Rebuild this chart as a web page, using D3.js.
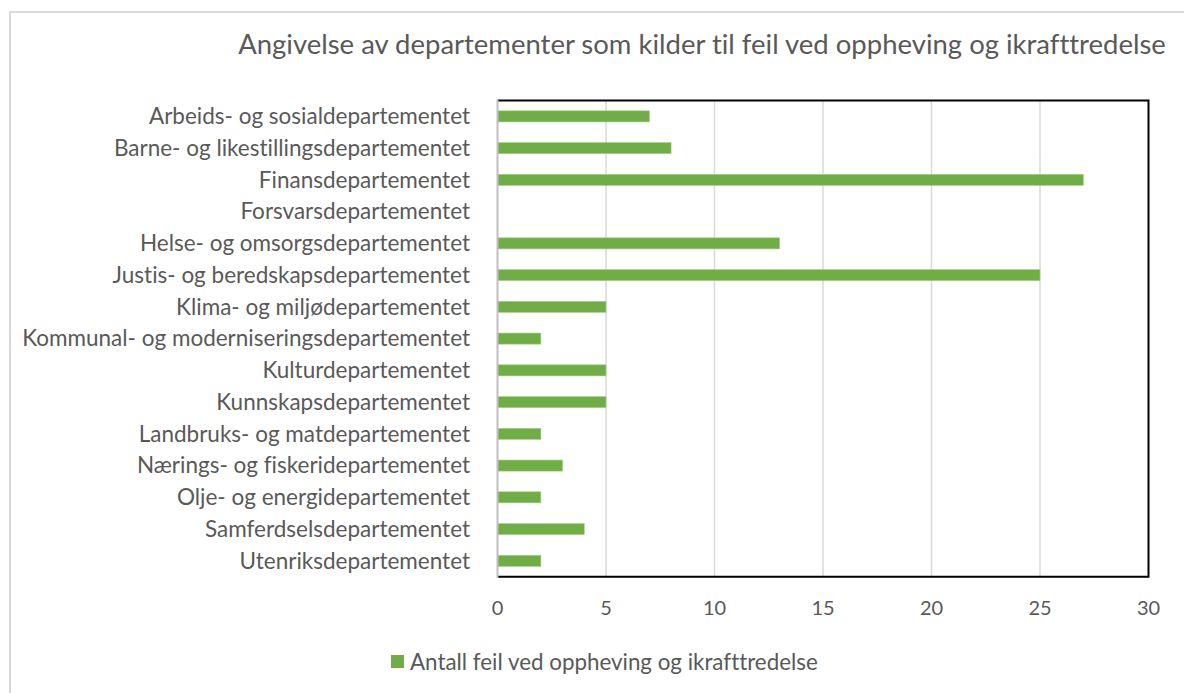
<!DOCTYPE html>
<html>
<head>
<meta charset="utf-8">
<script src="https://cdn.jsdelivr.net/npm/d3@7"></script>
<style>
  html, body { margin: 0; padding: 0; background: #fff; }
  svg { display: block; }
  text { font-family: "Lato", "Open Sans", sans-serif; font-variant-ligatures: none; font-feature-settings: "liga" 0, "clig" 0; }
</style>
</head>
<body>
<svg id="chart" width="1184" height="693"></svg>
<script>
const title = "Angivelse av departementer som kilder til feil ved oppheving og ikrafttredelse";
const seriesName = "Antall feil ved oppheving og ikrafttredelse";
const categories = [
  "Arbeids- og sosialdepartementet",
  "Barne- og likestillingsdepartementet",
  "Finansdepartementet",
  "Forsvarsdepartementet",
  "Helse- og omsorgsdepartementet",
  "Justis- og beredskapsdepartementet",
  "Klima- og miljødepartementet",
  "Kommunal- og moderniseringsdepartementet",
  "Kulturdepartementet",
  "Kunnskapsdepartementet",
  "Landbruks- og matdepartementet",
  "Nærings- og fiskeridepartementet",
  "Olje- og energidepartementet",
  "Samferdselsdepartementet",
  "Utenriksdepartementet"
];
const values = [7, 8, 27, 0, 13, 25, 5, 2, 5, 5, 2, 3, 2, 4, 2];
const xTicks = [0, 5, 10, 15, 20, 25, 30];

const svg = d3.select("#chart");
const W = 1184, H = 693;

// outer chart border
svg.append("rect")
  .attr("x", 10).attr("y", 12).attr("width", W + 20).attr("height", H + 20)
  .attr("fill", "#fff").attr("stroke", "#d9d9d9").attr("stroke-width", 2);

const plot = { left: 497.5, right: 1148.5, top: 100.5, bottom: 576.7 };

const x = d3.scaleLinear().domain([0, 30]).range([plot.left, plot.right]);
const y = d3.scaleBand().domain(categories).range([plot.top, plot.bottom]).paddingInner(0.65).paddingOuter(0.325);

// gridlines
svg.append("g").selectAll("line").data(xTicks.slice(1, -1)).join("line")
  .attr("x1", d => x(d)).attr("x2", d => x(d))
  .attr("y1", plot.top).attr("y2", plot.bottom)
  .attr("stroke", "#d9d9d9").attr("stroke-width", 1.5);

// plot border (black top/right/bottom)
svg.append("path")
  .attr("d", `M${plot.left},${plot.top}H${plot.right}V${plot.bottom}H${plot.left}`)
  .attr("fill", "none").attr("stroke", "#000").attr("stroke-width", 2);

// bars
svg.append("g").selectAll("rect").data(categories).join("rect")
  .attr("x", x(0))
  .attr("y", d => y(d))
  .attr("width", (d, i) => x(values[i]) - x(0))
  .attr("height", y.bandwidth())
  .attr("fill", "#70ad47")
  .attr("stroke", (d, i) => values[i] > 0 ? "#a9d18e" : "none")
  .attr("stroke-width", 0.6);

// left axis line (gray)
svg.append("line")
  .attr("x1", plot.left).attr("x2", plot.left)
  .attr("y1", plot.top - 1).attr("y2", plot.bottom + 1)
  .attr("stroke", "#bfbfbf").attr("stroke-width", 2);

// category labels
const catText = svg.append("g").selectAll("text").data(categories).join("text")
  .attr("x", 470)
  .attr("y", d => y(d) + y.bandwidth() / 2)
  .attr("dy", "0.35em")
  .attr("text-anchor", "end")
  .attr("fill", "#595959")
  .attr("font-size", 18)
  .text(d => d);

(function fitLabels() {
  const w = catText.nodes()[7].getComputedTextLength();
  catText.attr("font-size", (18 * 448 / w).toFixed(2));
})();

// x tick labels
svg.append("g").selectAll("text").data(xTicks).join("text")
  .attr("x", d => x(d))
  .attr("y", 608)
  .attr("dy", "0.35em")
  .attr("text-anchor", "middle")
  .attr("fill", "#595959")
  .attr("font-size", 20)
  .text(d => d);

// title
const titleText = svg.append("text")
  .attr("x", 702).attr("y", 44).attr("dy", "0.35em")
  .attr("text-anchor", "middle")
  .attr("fill", "#595959")
  .attr("font-size", 22)
  .text(title);
(function fitTitle() {
  const w = titleText.node().getComputedTextLength();
  titleText.attr("font-size", (22 * 928 / w).toFixed(2));
})();

// legend
svg.append("rect")
  .attr("x", 391).attr("y", 655).attr("width", 13).attr("height", 13)
  .attr("fill", "#70ad47");
const legText = svg.append("text")
  .attr("x", 410).attr("y", 662).attr("dy", "0.35em")
  .attr("fill", "#595959")
  .attr("font-size", 18)
  .text(seriesName);
(function fitLegend() {
  const w = legText.node().getComputedTextLength();
  legText.attr("font-size", (18 * 408 / w).toFixed(2));
})();
</script>
</body>
</html>
